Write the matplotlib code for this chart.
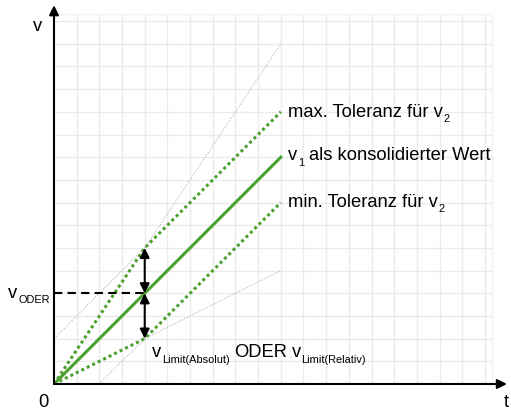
import matplotlib.pyplot as plt
from matplotlib.transforms import offset_copy

plt.rcParams['font.family'] = 'Liberation Sans'

# consolidated value v1 and tolerance band for v2
t = [0, 4, 10]
v1 = [0, 4, 10]
v_max = [0, 6, 12]
v_min = [0, 2, 8]

# absolute (+/-2) and relative (x1.5 / x0.5) limits
abs_up_t, abs_up_v = [0, 4], [2, 6]
rel_up_t, rel_up_v = [4, 10], [6, 15]
abs_lo_t, abs_lo_v = [2, 4], [0, 2]
rel_lo_t, rel_lo_v = [4, 10], [2, 5]

t_oder = 4
v_oder = 4

green = '#4ca12f'
fs = 13.2
fs_sub = 7.9
sub_drop = 4.0  # points

fig = plt.figure(figsize=(5.11, 4.10), dpi=100)
cell = 22.68
ax = fig.add_axes([54 / 511, 25 / 410, 20 * cell / 511, 16.7 * cell / 410])
ax.set_xlim(0, 20)
ax.set_ylim(0, 16.7)
ax.axis('off')

# grid
for i in range(1, 20):
    ax.plot([i, i], [0, 16.3], color='#ebebeb', lw=1, zorder=0)
for j in range(1, 17):
    ax.plot([0, 19.3], [j, j], color='#ebebeb', lw=1, zorder=0)
ax.plot([19.3, 19.3], [0, 16.3], color='#f2f2f2', lw=1, zorder=0)
ax.plot([0, 19.3], [16.3, 16.3], color='#f2f2f2', lw=1, zorder=0)

# thin gray limit lines
for xs, ys in [(abs_up_t, abs_up_v), (rel_up_t, rel_up_v),
               (abs_lo_t, abs_lo_v), (rel_lo_t, rel_lo_v)]:
    ax.plot(xs, ys, color='#b4b4b4', lw=0.8, ls=(0, (1, 1.5)), zorder=1)

# tolerance band and consolidated value
ax.plot(t, v_max, color=green, lw=2.2, ls=(0, (1, 1)), dash_capstyle='butt', zorder=2)
ax.plot(t, v_min, color=green, lw=2.2, ls=(0, (1, 1)), dash_capstyle='butt', zorder=2)
ax.plot(t, v1, color=green, lw=2.2, zorder=3)

# v_ODER marker line
ax.plot([0, t_oder], [v_oder, v_oder], color='black', lw=1.5, ls=(0, (4, 2.5)), zorder=3)

# tolerance arrows
arrow = dict(arrowstyle='<|-|>', color='black', lw=1.5, mutation_scale=14, shrinkA=0, shrinkB=0)
ax.annotate('', xy=(t_oder, v_max[1]), xytext=(t_oder, v_oder), arrowprops=arrow, zorder=4)
ax.annotate('', xy=(t_oder, v_min[1]), xytext=(t_oder, v_oder), arrowprops=arrow, zorder=4)

# axes with arrow heads
axis_arrow = dict(arrowstyle='-|>', color='black', lw=1.5, mutation_scale=14, shrinkA=0, shrinkB=0)
ax.annotate('', xy=(19.97, 0), xytext=(0, 0), arrowprops=axis_arrow, annotation_clip=False)
ax.annotate('', xy=(0, 16.7), xytext=(0, 0), arrowprops=axis_arrow, annotation_clip=False)

renderer = fig.canvas.get_renderer()


def text_width(s, size):
    tmp = fig.text(0, 0, s, fontsize=size)
    w = tmp.get_window_extent(renderer).width
    tmp.remove()
    return w


def rich_text(x, y, parts, ha='left', gap=3.5):
    # parts: (string, is_subscript); ' ' inserts a fixed gap in pixels
    widths = []
    for s, sub in parts:
        widths.append(gap if s == ' ' else text_width(s, fs_sub if sub else fs))
    pos = -sum(widths) if ha == 'right' else 0
    for (s, sub), w in zip(parts, widths):
        if s != ' ':
            tr = offset_copy(ax.transData, fig=fig, x=pos * 72 / fig.dpi,
                             y=-sub_drop if sub else 0, units='points')
            ax.text(x, y, s, fontsize=fs_sub if sub else fs, transform=tr,
                    ha='left', va='baseline', clip_on=False)
        pos += w + 0.5


# labels
ax.text(-0.71, 15.8, 'v', fontsize=fs, ha='center', va='center')
ax.text(-0.49, -0.97, '0', fontsize=fs, ha='center', va='baseline', clip_on=False)
ax.text(19.95, -0.97, 't', fontsize=fs, ha='center', va='baseline', clip_on=False)
rich_text(-0.22, 3.84, [('v', False), ('ODER', True)], ha='right')
rich_text(10.32, 11.82, [('max. Toleranz für v', False), ('2', True)])
rich_text(10.32, 9.92, [('v', False), ('1', True), (' ', False), ('als konsolidierter Wert', False)], gap=4.5)
rich_text(10.32, 7.86, [('min. Toleranz für v', False), ('2', True)])
rich_text(4.32, 1.23, [('v', False), ('Limit(Absolut)', True), (' ', False), ('ODER', False),
                       (' ', False), ('v', False), ('Limit(Relativ)', True)])

fig.savefig('out.png', dpi=100)
